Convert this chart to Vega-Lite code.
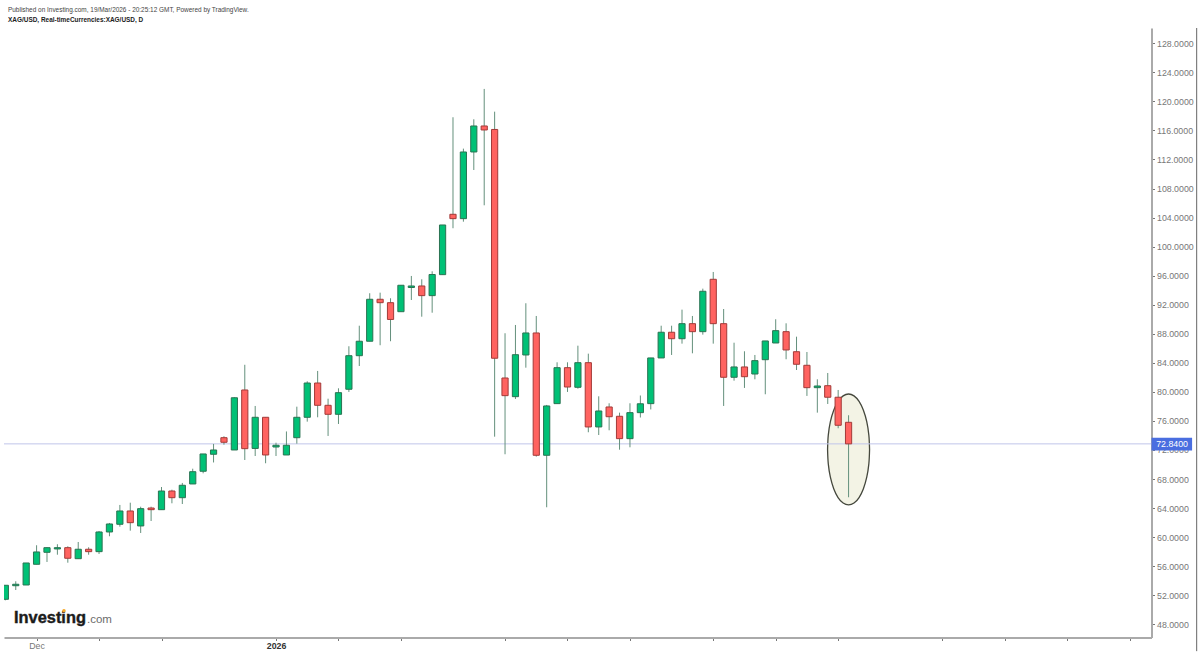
{
  "$schema": "https://vega.github.io/schema/vega-lite/v6.json",
  "description": "XAG/USD daily candles, Investing.com / TradingView style",
  "width": 1147.5,
  "height": 609.5,
  "autosize": {"type": "none"},
  "padding": {"left": 4, "top": 28, "right": 48.5, "bottom": 16.5},
  "background": "#ffffff",
  "config": {"view": {"stroke": null}, "font": "Liberation Sans", "scale": {"continuousPadding": 0}},
  "title": {
    "text": "Published on Investing.com, 19/Mar/2026 - 20:25:12 GMT, Powered by TradingView.",
    "subtitle": "XAG/USD, Real-timeCurrencies:XAG/USD, D",
    "anchor": "start",
    "frame": "group",
    "dx": 4,
    "offset": 4,
    "font": "Liberation Sans",
    "fontSize": 6.45,
    "fontWeight": "normal",
    "color": "#444444",
    "subtitleFont": "Liberation Sans",
    "subtitleFontSize": 6.45,
    "subtitleFontWeight": "bold",
    "subtitleColor": "#222222",
    "subtitlePadding": 4
  },
  "datasets": {
    "candles": [
      {"bar":0,"date":"2025-11-26","open":51.44,"high":53.37,"low":51.30,"close":53.37},
      {"bar":1,"date":"2025-11-27","open":53.31,"high":53.92,"low":52.72,"close":53.51},
      {"bar":2,"date":"2025-11-28","open":53.41,"high":56.44,"low":53.41,"close":56.44},
      {"bar":3,"date":"2025-12-01","open":56.26,"high":58.88,"low":56.26,"close":57.96},
      {"bar":4,"date":"2025-12-02","open":57.91,"high":58.60,"low":56.58,"close":58.55},
      {"bar":5,"date":"2025-12-03","open":58.37,"high":59.02,"low":57.58,"close":58.55},
      {"bar":6,"date":"2025-12-04","open":58.55,"high":58.74,"low":56.48,"close":57.09},
      {"bar":7,"date":"2025-12-05","open":57.03,"high":59.33,"low":56.99,"close":58.33},
      {"bar":8,"date":"2025-12-08","open":58.33,"high":58.60,"low":57.58,"close":58.00},
      {"bar":9,"date":"2025-12-09","open":58.00,"high":60.85,"low":57.68,"close":60.71},
      {"bar":10,"date":"2025-12-10","open":60.71,"high":61.95,"low":60.12,"close":61.81},
      {"bar":11,"date":"2025-12-11","open":61.77,"high":64.43,"low":61.44,"close":63.60},
      {"bar":12,"date":"2025-12-12","open":63.60,"high":64.74,"low":60.89,"close":61.99},
      {"bar":13,"date":"2025-12-15","open":61.54,"high":64.19,"low":60.57,"close":63.92},
      {"bar":14,"date":"2025-12-16","open":64.01,"high":64.19,"low":62.22,"close":63.78},
      {"bar":15,"date":"2025-12-17","open":63.78,"high":66.90,"low":63.78,"close":66.35},
      {"bar":16,"date":"2025-12-18","open":66.35,"high":66.53,"low":64.66,"close":65.43},
      {"bar":17,"date":"2025-12-19","open":65.43,"high":67.46,"low":64.56,"close":67.14},
      {"bar":18,"date":"2025-12-22","open":67.32,"high":69.42,"low":67.32,"close":69.01},
      {"bar":19,"date":"2025-12-23","open":69.07,"high":71.45,"low":68.79,"close":71.45},
      {"bar":20,"date":"2025-12-24","open":71.41,"high":72.83,"low":70.28,"close":72.00},
      {"bar":21,"date":"2025-12-25","open":73.69,"high":73.89,"low":72.73,"close":73.06},
      {"bar":22,"date":"2025-12-26","open":72.00,"high":79.26,"low":72.00,"close":79.19},
      {"bar":23,"date":"2025-12-29","open":80.26,"high":83.73,"low":70.62,"close":72.18},
      {"bar":24,"date":"2025-12-30","open":72.21,"high":78.06,"low":71.17,"close":76.50},
      {"bar":25,"date":"2025-12-31","open":76.50,"high":76.50,"low":70.17,"close":71.31},
      {"bar":26,"date":"2026-01-01","open":72.41,"high":73.00,"low":71.17,"close":72.65},
      {"bar":27,"date":"2026-01-02","open":71.31,"high":74.55,"low":71.31,"close":72.65},
      {"bar":28,"date":"2026-01-05","open":73.69,"high":77.96,"low":72.87,"close":76.50},
      {"bar":29,"date":"2026-01-06","open":76.50,"high":81.46,"low":75.90,"close":81.22},
      {"bar":30,"date":"2026-01-07","open":81.22,"high":82.88,"low":76.50,"close":78.15},
      {"bar":31,"date":"2026-01-08","open":78.15,"high":79.06,"low":73.93,"close":76.91},
      {"bar":32,"date":"2026-01-09","open":76.91,"high":80.49,"low":75.58,"close":79.89},
      {"bar":33,"date":"2026-01-12","open":80.36,"high":86.28,"low":79.99,"close":84.98},
      {"bar":34,"date":"2026-01-13","open":84.98,"high":89.11,"low":83.56,"close":86.97},
      {"bar":35,"date":"2026-01-14","open":86.97,"high":93.58,"low":86.97,"close":92.75},
      {"bar":36,"date":"2026-01-15","open":92.75,"high":93.66,"low":86.42,"close":92.28},
      {"bar":37,"date":"2026-01-16","open":92.28,"high":92.89,"low":86.97,"close":89.97},
      {"bar":38,"date":"2026-01-19","open":91.04,"high":94.68,"low":91.04,"close":94.68},
      {"bar":39,"date":"2026-01-20","open":94.37,"high":95.96,"low":92.65,"close":94.58},
      {"bar":40,"date":"2026-01-21","open":94.58,"high":95.50,"low":90.35,"close":93.25},
      {"bar":41,"date":"2026-01-22","open":93.25,"high":96.60,"low":90.90,"close":96.16},
      {"bar":42,"date":"2026-01-23","open":96.14,"high":102.98,"low":96.14,"close":102.98},
      {"bar":43,"date":"2026-01-26","open":104.45,"high":117.81,"low":102.53,"close":103.85},
      {"bar":44,"date":"2026-01-27","open":103.85,"high":113.49,"low":103.43,"close":113.03},
      {"bar":45,"date":"2026-01-28","open":113.03,"high":117.53,"low":110.55,"close":116.61},
      {"bar":46,"date":"2026-01-29","open":116.61,"high":121.71,"low":105.69,"close":116.06},
      {"bar":47,"date":"2026-01-30","open":116.13,"high":118.58,"low":73.83,"close":84.63},
      {"bar":48,"date":"2026-02-02","open":81.91,"high":88.07,"low":71.41,"close":79.48},
      {"bar":49,"date":"2026-02-03","open":79.34,"high":89.21,"low":79.02,"close":85.12},
      {"bar":50,"date":"2026-02-04","open":85.08,"high":92.20,"low":83.33,"close":88.11},
      {"bar":51,"date":"2026-02-05","open":88.11,"high":90.45,"low":71.08,"close":71.27},
      {"bar":52,"date":"2026-02-06","open":71.27,"high":78.20,"low":64.11,"close":78.06},
      {"bar":53,"date":"2026-02-09","open":78.38,"high":84.07,"low":78.38,"close":83.33},
      {"bar":54,"date":"2026-02-10","open":83.33,"high":84.07,"low":79.99,"close":80.67},
      {"bar":55,"date":"2026-02-11","open":80.63,"high":86.36,"low":80.44,"close":84.02},
      {"bar":56,"date":"2026-02-12","open":84.02,"high":85.26,"low":74.44,"close":75.17},
      {"bar":57,"date":"2026-02-13","open":75.17,"high":79.39,"low":74.06,"close":77.37},
      {"bar":58,"date":"2026-02-16","open":77.92,"high":78.43,"low":74.71,"close":76.58},
      {"bar":59,"date":"2026-02-17","open":76.64,"high":77.14,"low":72.04,"close":73.56},
      {"bar":60,"date":"2026-02-18","open":73.56,"high":78.43,"low":72.37,"close":77.14},
      {"bar":61,"date":"2026-02-19","open":77.14,"high":79.50,"low":76.47,"close":78.36},
      {"bar":62,"date":"2026-02-20","open":78.38,"high":84.67,"low":77.58,"close":84.67},
      {"bar":63,"date":"2026-02-23","open":84.67,"high":89.11,"low":84.67,"close":88.21},
      {"bar":64,"date":"2026-02-24","open":88.21,"high":89.11,"low":85.08,"close":87.32},
      {"bar":65,"date":"2026-02-25","open":87.32,"high":91.32,"low":86.64,"close":89.39},
      {"bar":66,"date":"2026-02-26","open":89.39,"high":90.45,"low":85.31,"close":88.29},
      {"bar":67,"date":"2026-02-27","open":88.29,"high":94.21,"low":87.88,"close":93.85},
      {"bar":68,"date":"2026-03-02","open":95.50,"high":96.51,"low":86.64,"close":89.39},
      {"bar":69,"date":"2026-03-03","open":89.39,"high":91.41,"low":78.06,"close":82.01},
      {"bar":70,"date":"2026-03-04","open":82.01,"high":86.77,"low":81.54,"close":83.43},
      {"bar":71,"date":"2026-03-05","open":83.43,"high":85.59,"low":80.54,"close":82.09},
      {"bar":72,"date":"2026-03-06","open":82.46,"high":85.08,"low":81.73,"close":84.30},
      {"bar":73,"date":"2026-03-09","open":84.43,"high":87.01,"low":79.67,"close":87.01},
      {"bar":74,"date":"2026-03-10","open":86.73,"high":90.00,"low":86.73,"close":88.43},
      {"bar":75,"date":"2026-03-11","open":88.29,"high":89.44,"low":84.49,"close":85.77},
      {"bar":76,"date":"2026-03-12","open":85.53,"high":87.60,"low":83.01,"close":83.80},
      {"bar":77,"date":"2026-03-13","open":83.66,"high":85.49,"low":79.44,"close":80.58},
      {"bar":78,"date":"2026-03-16","open":80.58,"high":81.73,"low":77.14,"close":80.81},
      {"bar":79,"date":"2026-03-17","open":80.85,"high":82.60,"low":78.33,"close":79.26},
      {"bar":80,"date":"2026-03-18","open":79.26,"high":80.26,"low":74.99,"close":75.40},
      {"bar":81,"date":"2026-03-19","open":75.81,"high":76.78,"low":65.49,"close":72.84}
    ]
  },
  "layer": [
    {
      "data": {"values": [
        {"bar":78.983,"top":72.07,"bottom":72.07},
        {"bar":79.052,"top":74.05,"bottom":70.09},
        {"bar":79.253,"top":75.89,"bottom":68.25},
        {"bar":79.574,"top":77.47,"bottom":66.67},
        {"bar":79.991,"top":78.69,"bottom":65.45},
        {"bar":80.478,"top":79.45,"bottom":64.69},
        {"bar":81.0,"top":79.71,"bottom":64.43},
        {"bar":81.522,"top":79.45,"bottom":64.69},
        {"bar":82.009,"top":78.69,"bottom":65.45},
        {"bar":82.426,"top":77.47,"bottom":66.67},
        {"bar":82.747,"top":75.89,"bottom":68.25},
        {"bar":82.948,"top":74.05,"bottom":70.09},
        {"bar":83.017,"top":72.07,"bottom":72.07}
      ]},
      "mark": {"type": "area", "interpolate": "cardinal", "fill": "#f3f3e5", "stroke": "#45483d", "strokeWidth": 1.3},
      "encoding": {
        "x": {
          "field": "bar",
          "type": "quantitative",
          "scale": {"domain": [-0.13, 110.1], "nice": false, "zero": false, "padding": 0},
          "axis": {
            "title": null,
            "grid": false,
            "values": [3,9,15,26,32,38,48,54,60,68,74,80,90,96,102,108],
            "tickCount": 40,
            "labelExpr": "datum.value == 3 ? 'Dec' : datum.value == 26 ? '2026' : ''",
            "labelFont": "Liberation Sans",
            "labelFontSize": 8.8,
            "labelColor": {"condition": {"test": "datum.value == 26", "value": "#333333"}, "value": "#777777"},
            "labelFontWeight": {"condition": {"test": "datum.value == 26", "value": "bold"}, "value": "normal"},
            "labelPadding": 1,
            "labelOverlap": false,
            "tickSize": 3,
            "tickColor": "#777777",
            "domainColor": "#aaaaaa",
            "domainWidth": 2
          }
        },
        "y": {
          "field": "top",
          "type": "quantitative",
          "scale": {"domain": [46.18, 130.1], "nice": false, "zero": false, "padding": 0},
          "axis": {
            "title": null,
            "orient": "right",
            "grid": false,
            "values": [48,52,56,60,64,68,72,76,80,84,88,92,96,100,104,108,112,116,120,124,128],
            "tickCount": 40,
            "format": ".4f",
            "labelFont": "Liberation Sans",
            "labelFontSize": 8.8,
            "labelColor": "#777777",
            "labelPadding": 2,
            "labelOverlap": false,
            "tickSize": 3,
            "tickColor": "#777777",
            "domainColor": "#aaaaaa",
            "domainWidth": 2
          }
        },
        "y2": {"field": "bottom"}
      }
    },
    {
      "data": {"values": [{"price": 72.84}]},
      "mark": {"type": "rule", "color": "#c0c6ea", "strokeWidth": 1},
      "encoding": {"y": {"field": "price", "type": "quantitative"}}
    },
    {
      "data": {"name": "candles"},
      "mark": {"type": "rule", "color": "#64907c", "strokeWidth": 1, "clip": true},
      "encoding": {
        "x": {"field": "bar", "type": "quantitative"},
        "y": {"field": "low", "type": "quantitative"},
        "y2": {"field": "high"}
      }
    },
    {
      "data": {"name": "candles"},
      "mark": {"type": "bar", "size": 6.2, "strokeWidth": 1, "clip": true},
      "encoding": {
        "x": {"field": "bar", "type": "quantitative"},
        "y": {"field": "open", "type": "quantitative"},
        "y2": {"field": "close"},
        "fill": {"condition": {"test": "datum.open > datum.close", "value": "#ff6360"}, "value": "#00c176"},
        "stroke": {"condition": {"test": "datum.open > datum.close", "value": "#a33a38"}, "value": "#2a7352"},
        "tooltip": [
          {"field": "date", "title": "Date"},
          {"field": "open", "title": "Open"},
          {"field": "high", "title": "High"},
          {"field": "low", "title": "Low"},
          {"field": "close", "title": "Close"}
        ]
      }
    },
    {
      "data": {"values": [{"bar": 114.44, "from": 44.3, "to": 130.1}]},
      "mark": {"type": "rule", "color": "#666666", "strokeWidth": 1},
      "encoding": {
        "x": {"field": "bar", "type": "quantitative"},
        "y": {"field": "from", "type": "quantitative"},
        "y2": {"field": "to"}
      }
    },
    {
      "data": {"values": [{"from": 110.1, "to": 114, "top": 73.69, "bottom": 71.93}]},
      "mark": {"type": "rect", "color": "#4a6ee0"},
      "encoding": {
        "x": {"field": "from", "type": "quantitative"},
        "x2": {"field": "to"},
        "y": {"field": "top", "type": "quantitative"},
        "y2": {"field": "bottom"}
      }
    },
    {
      "data": {"values": [{"bar": 110.55, "price": 72.8, "label": "72.8400"}]},
      "mark": {"type": "text", "align": "left", "baseline": "middle", "font": "Liberation Sans", "fontSize": 8.8, "color": "#ffffff"},
      "encoding": {
        "x": {"field": "bar", "type": "quantitative"},
        "y": {"field": "price", "type": "quantitative"},
        "text": {"field": "label"}
      }
    },
    {
      "data": {"values": [{"bar": 0.83, "price": 48.18, "label": "Investing"}]},
      "mark": {"type": "text", "align": "left", "baseline": "alphabetic", "font": "Liberation Sans", "fontSize": 16.4, "fontWeight": "bold", "color": "#1b1b1b", "stroke": "#1b1b1b", "strokeWidth": 0.4},
      "encoding": {
        "x": {"field": "bar", "type": "quantitative"},
        "y": {"field": "price", "type": "quantitative"},
        "text": {"field": "label"}
      }
    },
    {
      "data": {"values": [{"bar": 7.84, "price": 48.18, "label": ".com"}]},
      "mark": {"type": "text", "align": "left", "baseline": "alphabetic", "font": "Liberation Sans", "fontSize": 11.5, "color": "#6b6b6b"},
      "encoding": {
        "x": {"field": "bar", "type": "quantitative"},
        "y": {"field": "price", "type": "quantitative"},
        "text": {"field": "label"}
      }
    },
    {
      "data": {"values": [{"bar": 5.63, "price": 49.87}]},
      "mark": {"type": "point", "filled": true, "size": 12, "color": "#f5a623", "opacity": 1},
      "encoding": {
        "x": {"field": "bar", "type": "quantitative"},
        "y": {"field": "price", "type": "quantitative"}
      }
    }
  ]
}
